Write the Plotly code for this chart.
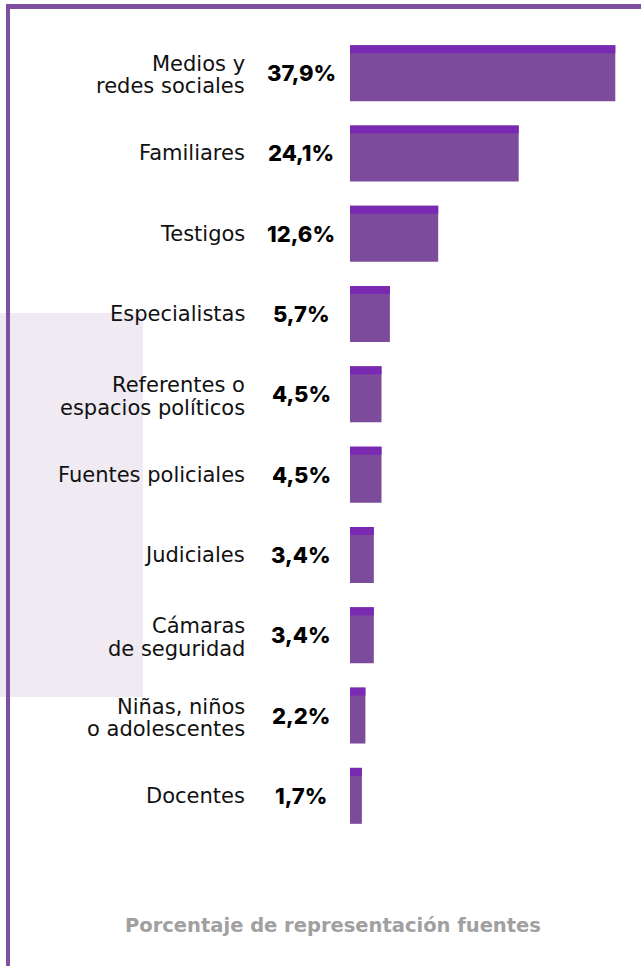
import plotly.graph_objects as go

categories = [
    "Medios y<br>redes sociales",
    "Familiares",
    "Testigos",
    "Especialistas",
    "Referentes o<br>espacios políticos",
    "Fuentes policiales",
    "Judiciales",
    "Cámaras<br>de seguridad",
    "Niñas, niños<br>o adolescentes",
    "Docentes",
]
values = [37.9, 24.1, 12.6, 5.7, 4.5, 4.5, 3.4, 3.4, 2.2, 1.7]
value_labels = ["37,9%", "24,1%", "12,6%", "5,7%", "4,5%", "4,5%", "3,4%", "3,4%", "2,2%", "1,7%"]
axis_title = "Porcentaje de representación fuentes"

W, H = 641, 966
L, R, T, B = 350, 17, 33, 130
PW = W - L - R
PH = H - T - B

def px_x(x):
    return (x - L) / PW

def px_y(y):
    return (H - B - y) / PH

BODY = "#7D4B9B"
STRIPE = "#7A2AB2"
bar_w = 0.697
LABEL_FONT = "DejaVu Sans, sans-serif"
VALUE_FONT = "Inter, Open Sans, sans-serif"

fig = go.Figure()
fig.add_trace(go.Bar(
    y=list(range(len(categories))), x=values, orientation="h",
    marker=dict(color=BODY, line=dict(width=0)),
    width=bar_w, hoverinfo="skip",
))
fig.add_trace(go.Bar(
    y=list(range(len(categories))), x=values, orientation="h",
    marker=dict(color=STRIPE, line=dict(width=0)),
    width=0.1, offset=-bar_w / 2, hoverinfo="skip",
))

annotations = []
for i, (c, v) in enumerate(zip(categories, value_labels)):
    lines = c.split("<br>")
    if len(lines) == 1:
        shifts = [0]
    else:
        shifts = [9, -13.3]
    for line, s in zip(lines, shifts):
        annotations.append(dict(
            x=px_x(247), xref="paper", y=i, yref="y", text=line, yshift=s,
            xanchor="right", yanchor="middle", align="right", showarrow=False,
            font=dict(family=LABEL_FONT, size=21, color="#111111"),
        ))
    annotations.append(dict(
        x=px_x(301), xref="paper", y=i, yref="y", text=v,
        xanchor="center", yanchor="middle", showarrow=False,
        font=dict(family=VALUE_FONT, size=22, color="#000000", weight=800),
    ))
annotations.append(dict(
    x=px_x(333), xref="paper", y=px_y(925), yref="paper",
    text="<b>" + axis_title + "</b>", xanchor="center", yanchor="middle",
    showarrow=False, font=dict(family=LABEL_FONT, size=19.5, color="#A0A0A0"),
))

FRAME = "#8050A0"
shapes = [
    dict(type="rect", xref="paper", yref="paper",
         x0=px_x(0), x1=px_x(143), y0=px_y(697), y1=px_y(313),
         fillcolor="#F0EBF3", line=dict(width=0), layer="below"),
    dict(type="line", xref="paper", yref="paper",
         x0=px_x(8), x1=px_x(8), y0=px_y(4), y1=px_y(966),
         line=dict(color=FRAME, width=4)),
    dict(type="line", xref="paper", yref="paper",
         x0=px_x(6), x1=px_x(641), y0=px_y(6.5), y1=px_y(6.5),
         line=dict(color=FRAME, width=5)),
]

fig.update_layout(
    width=W, height=H,
    margin=dict(l=L, r=R, t=T, b=B, pad=0),
    paper_bgcolor="white", plot_bgcolor="white",
    barmode="overlay", showlegend=False,
    xaxis=dict(range=[0, PW / 7.0], visible=False, fixedrange=True),
    yaxis=dict(range=[len(categories) - 0.5, -0.5], visible=False, fixedrange=True),
    annotations=annotations, shapes=shapes,
)

fig.write_html(
    "out.html",
    config={"displayModeBar": False},
    post_script="document.body.style.margin='0';document.body.style.overflow='hidden';",
)
